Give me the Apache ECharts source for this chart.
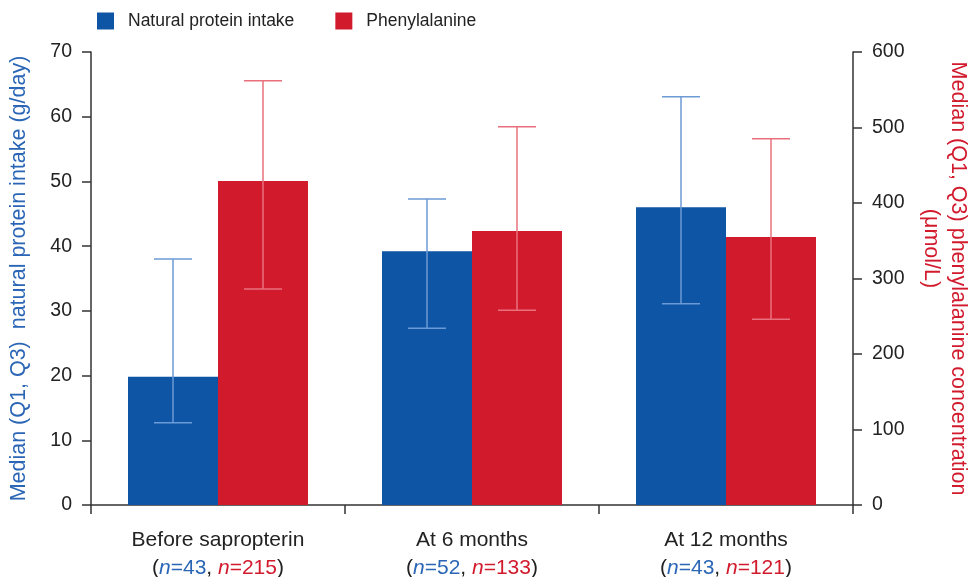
<!DOCTYPE html>
<html>
<head>
<meta charset="utf-8">
<script src="https://cdn.jsdelivr.net/npm/echarts@6/dist/echarts.min.js"></script>
<style>
  html, body { margin: 0; padding: 0; background: #fff; }
  #chart { width: 971px; height: 577px; }
</style>
</head>
<body>
<div id="chart"></div>
<script>
// data
const categories = ['Before sapropterin', 'At 6 months', 'At 12 months'];
const nProtein = [43, 52, 43];
const nPhe = [215, 133, 121];

const proteinMedian = [19.8, 39.2, 46.0];
const proteinQ1 = [12.7, 27.3, 31.1];
const proteinQ3 = [38.0, 47.3, 63.1];

const pheMedian = [429, 363, 355];
const pheQ1 = [286, 258, 246];
const pheQ3 = [562, 501, 485];

const blue = '#0f55a5';
const red = '#d21a2d';
const blueText = '#2a66b5';
const blueWhisker = '#6c9ad5';
const redWhisker = '#e8707d';
const barWidth = 90;
const font = 'Liberation Sans, Arial, Helvetica, sans-serif';

let myChart = echarts.init(document.getElementById('chart'));

// error bar drawn with custom series, shifted to the bar's centre
function whisker(color, shift) {
    return function (params, api) {
        const i = api.value(0);
        const lo = api.coord([i, api.value(1)]);
        const hi = api.coord([i, api.value(2)]);
        const x = lo[0] + shift;
        const half = 19;
        const style = { stroke: color, lineWidth: 1.5 };
        return {
            type: 'group',
            children: [
                { type: 'line', shape: { x1: x, y1: lo[1], x2: x, y2: hi[1] }, style: style },
                { type: 'line', shape: { x1: x - half, y1: lo[1], x2: x + half, y2: lo[1] }, style: style },
                { type: 'line', shape: { x1: x - half, y1: hi[1], x2: x + half, y2: hi[1] }, style: style }
            ]
        };
    };
}

const axisLine = { show: true, lineStyle: { color: '#333', width: 1.5 } };
const axisTick = { show: true, length: 9, lineStyle: { color: '#333', width: 1.5 } };

option = {
    backgroundColor: '#fff',
    animation: false,
    textStyle: { fontFamily: font },
    grid: { left: 91, right: 118, top: 52, bottom: 72, containLabel: false, outerBoundsMode: 'none' },
    legend: {
        left: 97,
        top: 12,
        padding: 0,
        itemWidth: 17,
        itemHeight: 17,
        itemGap: 41,
        icon: 'rect',
        data: ['Natural protein intake', 'Phenylalanine'],
        textStyle: { color: '#222', fontSize: 17.5, padding: [0, 0, 0, 9] }
    },
    xAxis: {
        type: 'category',
        data: categories,
        axisLine: axisLine,
        axisTick: axisTick,
        axisLabel: {
            interval: 0,
            margin: 21,
            color: '#222',
            fontSize: 21,
            lineHeight: 28,
            formatter: function (v, idx) {
                return v + '\n({b|n}{k|=' + nProtein[idx] + '}, {r|n}{rr|=' + nPhe[idx] + '})';
            },
            rich: {
                b: { color: blueText, fontStyle: 'italic', fontSize: 21 },
                r: { color: red, fontStyle: 'italic', fontSize: 21 },
                rr: { color: red, fontSize: 21 },
                k: { color: blueText, fontSize: 21 }
            }
        }
    },
    yAxis: [
        {
            type: 'value',
            min: 0,
            max: 70,
            interval: 10,
            name: 'Median (Q1, Q3)  natural protein intake (g/day)',
            nameLocation: 'middle',
            nameGap: 61,
            nameTextStyle: { color: blueText, fontSize: 21.5 },
            axisLine: axisLine,
            axisTick: axisTick,
            splitLine: { show: false },
            axisLabel: { color: '#222', fontSize: 19.5, margin: 19 }
        },
        {
            type: 'value',
            min: 0,
            max: 600,
            interval: 100,
            position: 'right',
            name: 'Median (Q1, Q3) phenylalanine concentration\n{u|(μmol/L)}',
            nameLocation: 'middle',
            nameRotate: -90,
            nameGap: 64,
            nameTextStyle: {
                color: red,
                fontSize: 21.5,
                lineHeight: 27,
                rich: { u: { color: red, fontSize: 21.5, lineHeight: 27, padding: [0, 60, 0, 0] } }
            },
            axisLine: axisLine,
            axisTick: axisTick,
            splitLine: { show: false },
            axisLabel: { color: '#222', fontSize: 19.5, margin: 19 }
        }
    ],
    series: [
        {
            name: 'Natural protein intake',
            type: 'bar',
            yAxisIndex: 0,
            barWidth: barWidth,
            barGap: '0%',
            itemStyle: { color: blue },
            data: proteinMedian
        },
        {
            name: 'Phenylalanine',
            type: 'bar',
            yAxisIndex: 1,
            barWidth: barWidth,
            barGap: '0%',
            itemStyle: { color: red },
            data: pheMedian
        },
        {
            type: 'custom',
            yAxisIndex: 0,
            z: 10,
            renderItem: whisker(blueWhisker, -barWidth / 2),
            data: categories.map((c, i) => [i, proteinQ1[i], proteinQ3[i]])
        },
        {
            type: 'custom',
            yAxisIndex: 1,
            z: 10,
            renderItem: whisker(redWhisker, barWidth / 2),
            data: categories.map((c, i) => [i, pheQ1[i], pheQ3[i]])
        }
    ]
};

myChart.setOption(option);
</script>
</body>
</html>
